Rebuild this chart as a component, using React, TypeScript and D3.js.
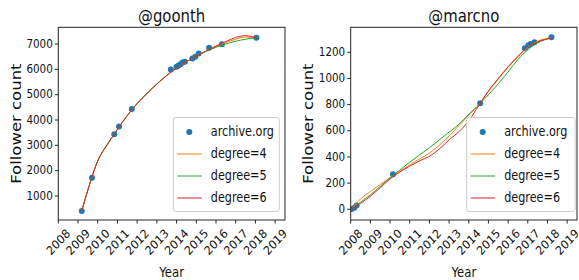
import React from 'react';
import * as d3 from 'd3';

// tab10 colours
const BLUE = '#1f77b4', ORANGE = '#ff7f0e', GREEN = '#2ca02c', RED = '#d62728';
const FONT = 'DejaVu Sans, sans-serif';

const yearTicks = [2008, 2009, 2010, 2011, 2012, 2013, 2014, 2015, 2016, 2017, 2018, 2019];

// @goonth
const goonthYears = [2009.19, 2009.71, 2010.84, 2011.08, 2011.73, 2013.71, 2014.0, 2014.1, 2014.2, 2014.3, 2014.42, 2014.8, 2014.95, 2015.12, 2015.65, 2016.3, 2018.05];
const goonthCounts = [410, 1720, 3440, 3740, 4430, 5990, 6100, 6150, 6200, 6270, 6300, 6430, 6500, 6630, 6850, 6990, 7250];
const goonthFitYears = [2009.19, 2009.5, 2010, 2010.5, 2011, 2011.5, 2012, 2012.5, 2013, 2013.5, 2014, 2014.5, 2015, 2015.5, 2016, 2016.5, 2017, 2017.5, 2018.05];
const goonthDeg4 = [420, 1230, 2380, 3050, 3630, 4180, 4650, 5050, 5420, 5760, 6050, 6300, 6520, 6720, 6900, 7060, 7190, 7280, 7240];
const goonthDeg5 = [420, 1230, 2380, 3050, 3630, 4180, 4650, 5050, 5420, 5760, 6050, 6300, 6520, 6710, 6870, 7000, 7110, 7190, 7240];
const goonthDeg6 = [410, 1240, 2390, 3050, 3630, 4180, 4650, 5050, 5420, 5760, 6050, 6300, 6520, 6730, 6920, 7100, 7260, 7330, 7240];
const goonthTicks = [1000, 2000, 3000, 4000, 5000, 6000, 7000];

// @marcno
const marcnoYears = [2008.05, 2008.18, 2008.3, 2010.15, 2014.58, 2016.85, 2017.02, 2017.14, 2017.34, 2018.2];
const marcnoCounts = [2, 12, 28, 268, 810, 1231, 1251, 1264, 1277, 1315];
const marcnoFitYears = [2008.0, 2008.5, 2009, 2009.5, 2010, 2010.5, 2011, 2011.5, 2012, 2012.5, 2013, 2013.5, 2014, 2014.58, 2015, 2015.5, 2016, 2016.5, 2017, 2017.5, 2018.2];
const marcnoDeg4 = [-8, 80, 135, 190, 240, 290, 340, 385, 430, 490, 560, 640, 720, 810, 900, 995, 1085, 1165, 1240, 1285, 1310];
const marcnoDeg5 = [-5, 55, 110, 175, 240, 300, 360, 415, 470, 530, 590, 650, 725, 810, 875, 960, 1050, 1145, 1220, 1272, 1310];
const marcnoDeg6 = [0, 45, 100, 165, 232, 285, 330, 370, 405, 460, 530, 593, 677, 810, 905, 1000, 1090, 1170, 1245, 1280, 1310];
const marcnoTicks = [0, 200, 400, 600, 800, 1000, 1200];

const legendLabels = ['archive.org', 'degree=4', 'degree=5', 'degree=6'];

type PanelProps = {
  title: string;
  left: number;
  right: number;
  yDomain: [number, number];
  yTicks: number[];
  years: number[];
  counts: number[];
  fitYears: number[];
  fits: number[][];
  legendX: number;
  legendW: number;
};

const TOP = 27.3, BOTTOM = 220;
// the reference text is squeezed sideways
const SQ = 0.85;

function Panel(p: PanelProps) {
  const x = d3.scaleLinear().domain([2008, 2019.5]).range([p.left, p.right]);
  const y = d3.scaleLinear().domain(p.yDomain).range([BOTTOM, TOP]);
  const line = d3.line<number>()
    .x((_, i) => x(p.fitYears[i]))
    .y((d) => y(d))
    .curve(d3.curveMonotoneX);
  const colors = [ORANGE, GREEN, RED];
  const midX = (p.left + p.right) / 2;
  const midY = (TOP + BOTTOM) / 2;
  const clipId = 'clip-' + p.title.replace('@', '');
  const lgTop = 117.5, lgRow = 22;

  return (
    <g>
      <defs>
        <clipPath id={clipId}>
          <rect x={p.left} y={TOP} width={p.right - p.left} height={BOTTOM - TOP} />
        </clipPath>
      </defs>
      <g clipPath={`url(#${clipId})`}>
        {p.years.map((yr, i) => (
          <circle key={i} cx={x(yr)} cy={y(p.counts[i])} r={3} fill={BLUE} />
        ))}
        {p.fits.map((f, i) => (
          <path key={i} d={line(f) || ''} fill="none" stroke={colors[i]} strokeWidth={1} />
        ))}
      </g>
      <rect x={p.left} y={TOP} width={p.right - p.left} height={BOTTOM - TOP} fill="none" stroke="#262626" strokeWidth={1} />
      {yearTicks.map((t) => (
        <g key={t}>
          <line x1={x(t)} x2={x(t)} y1={BOTTOM} y2={BOTTOM + 3.5} stroke="#262626" />
          <text
            transform={`translate(${x(t)},${BOTTOM + 22}) scale(0.92,1) rotate(-45)`}
            textAnchor="middle" dominantBaseline="central"
            fontSize={12} fontFamily={FONT} fill="#111"
          >{t}</text>
        </g>
      ))}
      {p.yTicks.map((t) => (
        <g key={t}>
          <line x1={p.left - 3.5} x2={p.left} y1={y(t)} y2={y(t)} stroke="#262626" />
          <text transform={`translate(${p.left - 5.5},${y(t)}) scale(0.9,1)`} textAnchor="end" dominantBaseline="central"
            fontSize={11.5} fontFamily={FONT} fill="#111">{t}</text>
        </g>
      ))}
      <text transform={`translate(${midX},21.5) scale(${SQ},1)`} textAnchor="middle" fontSize={17.5} fontFamily={FONT} fill="#111">{p.title}</text>
      <text transform={`translate(${midX},276.5) scale(0.8,1)`} textAnchor="middle" fontSize={14.6} fontFamily={FONT} fill="#111">Year</text>
      <text transform={`translate(${p.left - 42},${midY}) scale(${SQ},1) rotate(-90)`} textAnchor="middle" dominantBaseline="central"
        fontSize={16.5} fontFamily={FONT} fill="#111">Follower count</text>

      <rect x={p.legendX} y={lgTop} width={p.legendW} height={94} rx={2.5} fill="white" fillOpacity={0.8} stroke="#cccccc" strokeWidth={1} />
      {legendLabels.map((lab, i) => {
        const cy = lgTop + 14.5 + i * lgRow;
        return (
          <g key={lab}>
            {i === 0
              ? <circle cx={p.legendX + 16} cy={cy} r={3} fill={BLUE} />
              : <line x1={p.legendX + 4} x2={p.legendX + 28.5} y1={cy} y2={cy} stroke={colors[i - 1]} strokeWidth={1} />}
            <text transform={`translate(${p.legendX + 37.5},${cy}) scale(${SQ},1)`} dominantBaseline="central"
              fontSize={13.2} fontFamily={FONT} fill="#111">{lab}</text>
          </g>
        );
      })}
    </g>
  );
}

export default function App() {
  return (
    <svg width={579} height={280} style={{ position: 'absolute', left: 0, top: 0, background: 'white' }}>
      <Panel
        title="@goonth" left={58.3} right={285}
        yDomain={[52, 7660]} yTicks={goonthTicks}
        years={goonthYears} counts={goonthCounts}
        fitYears={goonthFitYears} fits={[goonthDeg4, goonthDeg5, goonthDeg6]}
        legendX={173.3} legendW={106}
      />
      <Panel
        title="@marcno" left={350.7} right={577}
        yDomain={[-82, 1391]} yTicks={marcnoTicks}
        years={marcnoYears} counts={marcnoCounts}
        fitYears={marcnoFitYears} fits={[marcnoDeg4, marcnoDeg5, marcnoDeg6]}
        legendX={466.7} legendW={108.5}
      />
    </svg>
  );
}
